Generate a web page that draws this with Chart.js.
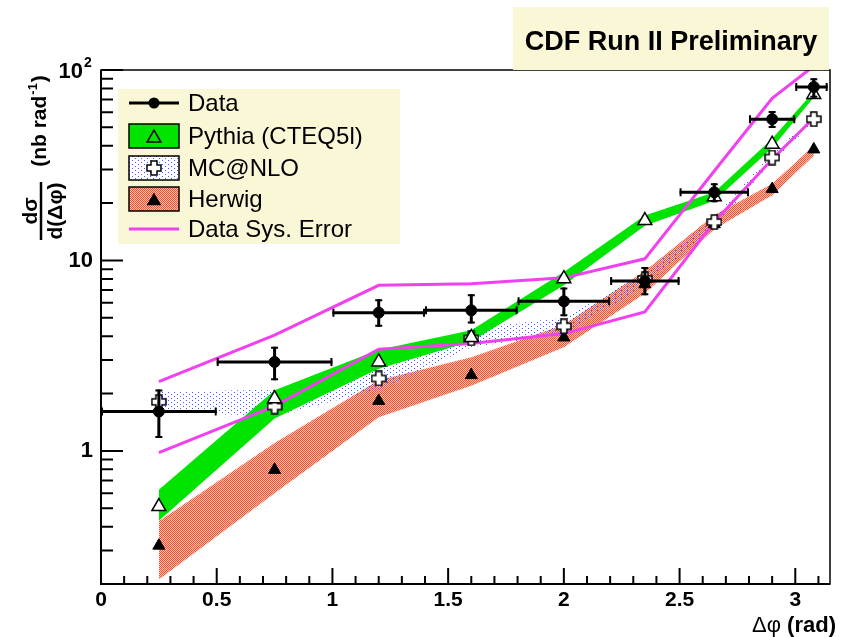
<!DOCTYPE html>
<html>
<head>
<meta charset="utf-8">
<title>dσ/d(Δφ)</title>
<script src="https://cdn.jsdelivr.net/npm/chart.js@4.4.1/dist/chart.umd.min.js"></script>
<style>
  html, body { margin: 0; padding: 0; background: #fff; }
  #wrap { position: relative; width: 844px; height: 637px; }
</style>
</head>
<body>
<div id="wrap"><canvas id="dphiChart"></canvas></div>
<script>
// Δφ bins: centres and edges (rad)
const binCentres = [0.25, 0.75, 1.2, 1.6, 2.0, 2.35, 2.65, 2.9, 3.08];
const binLow     = [0, 0.5, 1.0, 1.4, 1.8, 2.2, 2.5, 2.8, 3.0];
const binHigh    = [0.5, 1.0, 1.4, 1.8, 2.2, 2.5, 2.8, 3.0, 3.14];

// measured dσ/dΔφ (nb/rad) with error bar ends
const dataValues  = [1.61, 2.93, 5.32, 5.47, 6.1, 7.79, 22.8, 55.2, 81.5];
const dataErrLow  = [1.17, 2.35, 4.48, 4.66, 5.1, 6.56, 20.2, 49.6, 71.5];
const dataErrHigh = [2.1, 3.52, 6.25, 6.64, 7.2, 9.23, 25.4, 61.0, 90.5];

// systematic envelope of the data
const sysUpper = [2.31, 4.05, 7.4, 7.55, 8.1, 10.2, 29.5, 71, 105];
const sysLower = [0.98, 1.72, 3.42, 3.66, 4.13, 5.36, 15.9, 34, 56];

// Pythia (CTEQ5l)
const pythiaValues = [0.51, 1.88, 2.93, 3.94, 8.02, 16.2, 21.6, 40.8, 74.4];
const pythiaLow    = [0.43, 1.48, 2.7, 3.75, 7.4, 15.2, 20.6, 39, 72];
const pythiaHigh   = [0.625, 2.08, 3.4, 4.3, 8.7, 17.2, 22.8, 43.5, 77];

// MC@NLO
const mcnloValues = [1.81, 1.71, 2.4, 3.9, 4.51, 8.0, 15.9, 34.7, 55.2];
const mcnloLow    = [1.6, 1.52, 2.1, 3.5, 4.1, 7.4, 15.0, 33, 53];
const mcnloHigh   = [2.04, 2.1, 2.75, 4.4, 5.0, 8.6, 16.8, 36.5, 57];

// Herwig
const herwigValues = [0.318, 0.795, 1.83, 2.5, 3.94, 7.5, 15.5, 23.7, 38.3];
const herwigLow    = [0.211, 0.6, 1.5, 2.2, 3.5, 6.7, 14.6, 22.0, 35.5];
const herwigHigh   = [0.427, 1.1, 2.35, 3.1, 4.6, 8.8, 17.3, 25.3, 40];

// axis ticks
const xMajorTicks = [0, 0.5, 1, 1.5, 2, 2.5, 3];
const xMinorStep = 0.1;
const yTickValues = [0.2, 0.3, 0.4, 0.5, 0.6, 0.7, 0.8, 0.9,
                     1, 2, 3, 4, 5, 6, 7, 8, 9,
                     10, 20, 30, 40, 50, 60, 70, 80, 90, 100];
const yLabelled = [1, 10];

const GREEN = '#00e400';
const MAGENTA = '#f040f0';
const BEIGE = '#faf7d6';
const FONT = '"Liberation Sans", Arial, Helvetica, sans-serif';

const toPoints = vals => binCentres.map((x, i) => ({ x: x, y: vals[i] }));

function makePattern(w, h, paint) {
  const c = document.createElement('canvas');
  c.width = w;
  c.height = h;
  const g = c.getContext('2d');
  paint(g);
  return g.createPattern(c, 'repeat');
}

// sparse blue dots for MC@NLO, fine red checker for Herwig
const dotFill = makePattern(6, 4, g => {
  g.fillStyle = '#3a5cff';
  g.fillRect(0, 0, 1, 1);
  g.fillRect(3, 2, 1, 1);
});
const hatchFill = makePattern(2, 2, g => {
  g.fillStyle = '#ffc4b6';
  g.fillRect(0, 0, 2, 2);
  g.fillStyle = '#f5532f';
  g.fillRect(0, 0, 1, 1);
  g.fillRect(1, 1, 1, 1);
});

// hollow "plus" marker
function openCross(size, arm) {
  const c = document.createElement('canvas');
  c.width = c.height = size;
  const g = c.getContext('2d');
  const h = size / 2, a = arm / 2, e = size / 2 - 1;
  const pts = [[-a,-e],[a,-e],[a,-a],[e,-a],[e,a],[a,a],[a,e],[-a,e],[-a,a],[-e,a],[-e,-a],[-a,-a]];
  g.beginPath();
  pts.forEach(([x, y], i) => i ? g.lineTo(h + x, h + y) : g.moveTo(h + x, h + y));
  g.closePath();
  g.fillStyle = '#fff';
  g.fill();
  g.lineWidth = 1.5;
  g.strokeStyle = '#000';
  g.stroke();
  return c;
}
const crossMarker = openCross(16, 6);

// band edge helper: invisible line, optionally filled down to previous dataset
function bandEdge(label, vals, fillStyle, order) {
  return {
    label: label,
    data: toPoints(vals),
    borderColor: 'rgba(0,0,0,0)',
    borderWidth: 0,
    backgroundColor: fillStyle || 'rgba(0,0,0,0)',
    pointRadius: 0,
    fill: fillStyle ? '-1' : false,
    tension: 0,
    order: order
  };
}

// statistical and bin-width bars for the data points
const errorBars = {
  id: 'errorBars',
  beforeDatasetDraw(chart, args) {
    if (chart.data.datasets[args.index].label !== 'Data') return;
    const xs = chart.scales.x, ys = chart.scales.y, ctx = chart.ctx;
    ctx.save();
    ctx.strokeStyle = '#000';
    binCentres.forEach((xc, i) => {
      const px = xs.getPixelForValue(xc);
      const py = ys.getPixelForValue(dataValues[i]);
      const x0 = xs.getPixelForValue(binLow[i]);
      const x1 = xs.getPixelForValue(binHigh[i]);
      const y0 = ys.getPixelForValue(dataErrLow[i]);
      const y1 = ys.getPixelForValue(dataErrHigh[i]);
      ctx.lineWidth = 3;
      ctx.beginPath();
      ctx.moveTo(x0, py); ctx.lineTo(x1, py);
      ctx.moveTo(px, y0); ctx.lineTo(px, y1);
      ctx.stroke();
      ctx.lineWidth = 2;
      ctx.beginPath();
      ctx.moveTo(x0 + 1, py - 4); ctx.lineTo(x0 + 1, py + 4);
      ctx.moveTo(x1 - 1, py - 4); ctx.lineTo(x1 - 1, py + 4);
      ctx.moveTo(px - 3.5, y0 - 1); ctx.lineTo(px + 3.5, y0 - 1);
      ctx.moveTo(px - 3.5, y1 + 1); ctx.lineTo(px + 3.5, y1 + 1);
      ctx.stroke();
    });
    ctx.restore();
  }
};

// frame with inward ticks, titles and legend
const decorations = {
  id: 'decorations',
  afterDatasetsDraw(chart) {
    const ctx = chart.ctx, a = chart.chartArea;
    const xs = chart.scales.x, ys = chart.scales.y;
    ctx.save();
    ctx.strokeStyle = '#000';

    ctx.lineWidth = 1.5;
    ctx.strokeRect(a.left, a.top, a.right - a.left, a.bottom - a.top);
    ctx.lineWidth = 2;
    ctx.beginPath();
    ctx.moveTo(a.left, a.top); ctx.lineTo(a.left, a.bottom); ctx.lineTo(a.right, a.bottom);
    ctx.stroke();

    ctx.beginPath();
    const nMinor = Math.floor(xs.max / xMinorStep + 1e-6);
    for (let i = 0; i <= nMinor; i++) {
      const v = i * xMinorStep;
      const p = xs.getPixelForValue(v);
      const major = xMajorTicks.some(t => Math.abs(t - v) < 1e-6);
      ctx.moveTo(p, a.bottom);
      ctx.lineTo(p, a.bottom - (major ? 16 : 8));
    }
    yTickValues.forEach(v => {
      const p = ys.getPixelForValue(v);
      const major = [1, 10, 100].includes(v);
      ctx.moveTo(a.left, p);
      ctx.lineTo(a.left + (major ? 22 : 12), p);
    });
    ctx.stroke();
    ctx.restore();
  },
  afterDraw(chart) {
    const ctx = chart.ctx, ys = chart.scales.y;
    ctx.save();

    // 10^2 label at the top of the y axis
    const p100 = ys.getPixelForValue(100);
    ctx.fillStyle = '#000';
    ctx.font = 'bold 22px ' + FONT;
    ctx.textAlign = 'right';
    ctx.textBaseline = 'middle';
    ctx.fillText('10', 83, p100 + 2);
    ctx.font = 'bold 14px ' + FONT;
    ctx.textAlign = 'left';
    ctx.fillText('2', 84, p100 - 7);

    // run label
    ctx.fillStyle = BEIGE;
    ctx.fillRect(513, 7, 316, 63);
    ctx.fillStyle = '#000';
    ctx.font = 'bold 27px ' + FONT;
    ctx.textAlign = 'center';
    ctx.textBaseline = 'alphabetic';
    ctx.fillText('CDF Run II Preliminary', 671, 50);

    // x axis title
    ctx.textAlign = 'left';
    ctx.font = 'bold 22px ' + FONT;
    const radW = ctx.measureText(' (rad)').width;
    ctx.font = '22px ' + FONT;
    const dW = ctx.measureText('Δφ').width;
    const xEnd = 836;
    ctx.fillText('Δφ', xEnd - radW - dW, 632);
    ctx.font = 'bold 22px ' + FONT;
    ctx.fillText(' (rad)', xEnd - radW, 632);

    // y axis title: fraction plus units
    ctx.save();
    ctx.translate(41, 211);
    ctx.rotate(-Math.PI / 2);
    ctx.lineWidth = 2.5;
    ctx.beginPath();
    ctx.moveTo(-29, 0); ctx.lineTo(29, 0);
    ctx.stroke();
    ctx.textAlign = 'center';
    ctx.font = 'bold 21px ' + FONT;
    ctx.fillText('dσ', 0, -4);
    ctx.fillText('d(Δφ)', 0, 21);
    ctx.restore();

    ctx.save();
    ctx.translate(46, 122);
    ctx.rotate(-Math.PI / 2);
    ctx.textAlign = 'left';
    ctx.font = 'bold 21px ' + FONT;
    const w1 = ctx.measureText('(nb rad').width;
    const w3 = ctx.measureText(')').width;
    ctx.font = 'bold 13px ' + FONT;
    const w2 = ctx.measureText('-1').width;
    const x0 = -(w1 + w2 + w3) / 2;
    ctx.font = 'bold 21px ' + FONT;
    ctx.fillText('(nb rad', x0, 0);
    ctx.font = 'bold 13px ' + FONT;
    ctx.fillText('-1', x0 + w1 + 1, -9);
    ctx.font = 'bold 21px ' + FONT;
    ctx.fillText(')', x0 + w1 + w2 + 2, 0);
    ctx.restore();

    // legend
    const lx = 118, ly = 89;
    ctx.fillStyle = BEIGE;
    ctx.fillRect(lx, ly, 282, 155);
    const sx0 = 129, sx1 = 179, sw = sx1 - sx0, cx = 154;
    const rows = [103, 136, 168, 199, 229];
    const labels = ['Data', 'Pythia (CTEQ5l)', 'MC@NLO', 'Herwig', 'Data Sys. Error'];

    ctx.strokeStyle = '#000';
    ctx.lineWidth = 3;
    ctx.beginPath();
    ctx.moveTo(sx0, rows[0]); ctx.lineTo(sx1, rows[0]);
    ctx.stroke();
    ctx.fillStyle = '#000';
    ctx.beginPath();
    ctx.arc(cx, rows[0], 5.5, 0, Math.PI * 2);
    ctx.fill();

    const box = (y, fill) => {
      ctx.fillStyle = '#fff';
      ctx.fillRect(sx0, y - 12, sw, 24);
      ctx.fillStyle = fill;
      ctx.fillRect(sx0, y - 12, sw, 24);
      ctx.lineWidth = 1.5;
      ctx.strokeStyle = '#000';
      ctx.strokeRect(sx0, y - 12, sw, 24);
    };
    box(rows[1], GREEN);
    ctx.fillStyle = GREEN;
    ctx.strokeStyle = '#000';
    Chart.helpers.drawPoint(ctx, { pointStyle: 'triangle', radius: 8, borderWidth: 1.5, rotation: 0 }, cx, rows[1] + 2);
    box(rows[2], dotFill);
    ctx.drawImage(crossMarker, cx - 8, rows[2] - 8);
    box(rows[3], hatchFill);
    ctx.fillStyle = '#000';
    Chart.helpers.drawPoint(ctx, { pointStyle: 'triangle', radius: 7, borderWidth: 1, rotation: 0 }, cx, rows[3] + 2);

    ctx.strokeStyle = MAGENTA;
    ctx.lineWidth = 3;
    ctx.beginPath();
    ctx.moveTo(sx0, rows[4]); ctx.lineTo(sx1, rows[4]);
    ctx.stroke();

    ctx.fillStyle = '#000';
    ctx.font = '24px ' + FONT;
    ctx.textAlign = 'left';
    ctx.textBaseline = 'middle';
    labels.forEach((t, i) => ctx.fillText(t, 188, rows[i] + 1));

    ctx.restore();
  }
};

const ctx = document.getElementById('dphiChart');
new Chart(ctx, {
  type: 'line',
  data: {
    datasets: [
      bandEdge('Herwig low', herwigLow, null, 90),
      bandEdge('Herwig high', herwigHigh, hatchFill, 89),
      bandEdge('MC@NLO low', mcnloLow, null, 80),
      bandEdge('MC@NLO high', mcnloHigh, dotFill, 79),
      bandEdge('Pythia low', pythiaLow, null, 70),
      bandEdge('Pythia high', pythiaHigh, GREEN, 69),
      {
        label: 'Sys upper', data: toPoints(sysUpper), borderColor: MAGENTA,
        borderWidth: 3, pointRadius: 0, fill: false, tension: 0, order: 60
      },
      {
        label: 'Sys lower', data: toPoints(sysLower), borderColor: MAGENTA,
        borderWidth: 3, pointRadius: 0, fill: false, tension: 0, order: 59
      },
      {
        label: 'Herwig', data: toPoints(herwigValues), showLine: false,
        pointStyle: 'triangle', pointRadius: 7, pointBackgroundColor: '#000',
        pointBorderColor: '#000', pointBorderWidth: 1, order: 50
      },
      {
        label: 'MC@NLO', data: toPoints(mcnloValues), showLine: false,
        pointStyle: crossMarker, pointRadius: 8, order: 49
      },
      {
        label: 'Pythia (CTEQ5l)', data: toPoints(pythiaValues), showLine: false,
        pointStyle: 'triangle', pointRadius: 8, pointBackgroundColor: '#fff',
        pointBorderColor: '#000', pointBorderWidth: 1.5, order: 48
      },
      {
        label: 'Data', data: toPoints(dataValues), showLine: false,
        pointStyle: 'circle', pointRadius: 5.5, pointBackgroundColor: '#000',
        pointBorderColor: '#000', pointBorderWidth: 1, order: 10
      }
    ]
  },
  options: {
    responsive: true,
    maintainAspectRatio: false,
    animation: false,
    events: [],
    layout: { padding: { left: 0, right: 14, top: 70, bottom: 0 } },
    plugins: {
      legend: { display: false },
      tooltip: { enabled: false },
      filler: { propagate: false }
    },
    scales: {
      x: {
        type: 'linear',
        min: 0,
        max: 3.15,
        grid: { display: false, drawTicks: false },
        border: { display: false },
        afterBuildTicks: s => { s.ticks = xMajorTicks.map(v => ({ value: v })); },
        afterFit: s => { s.height = 53; },
        ticks: {
          autoSkip: false,
          maxRotation: 0,
          padding: 4,
          color: '#000',
          font: { family: FONT, size: 21, weight: 'bold' },
          callback: v => String(v)
        }
      },
      y: {
        type: 'logarithmic',
        min: 0.2,
        max: 100,
        grid: { display: false, drawTicks: false },
        border: { display: false },
        afterBuildTicks: s => { s.ticks = yTickValues.map(v => ({ value: v })); },
        afterFit: s => { s.width = 101; },
        ticks: {
          autoSkip: false,
          padding: 8,
          color: '#000',
          font: { family: FONT, size: 22, weight: 'bold' },
          callback: v => yLabelled.includes(v) ? String(v) : ''
        }
      }
    }
  },
  plugins: [errorBars, decorations]
});
</script>
</body>
</html>
